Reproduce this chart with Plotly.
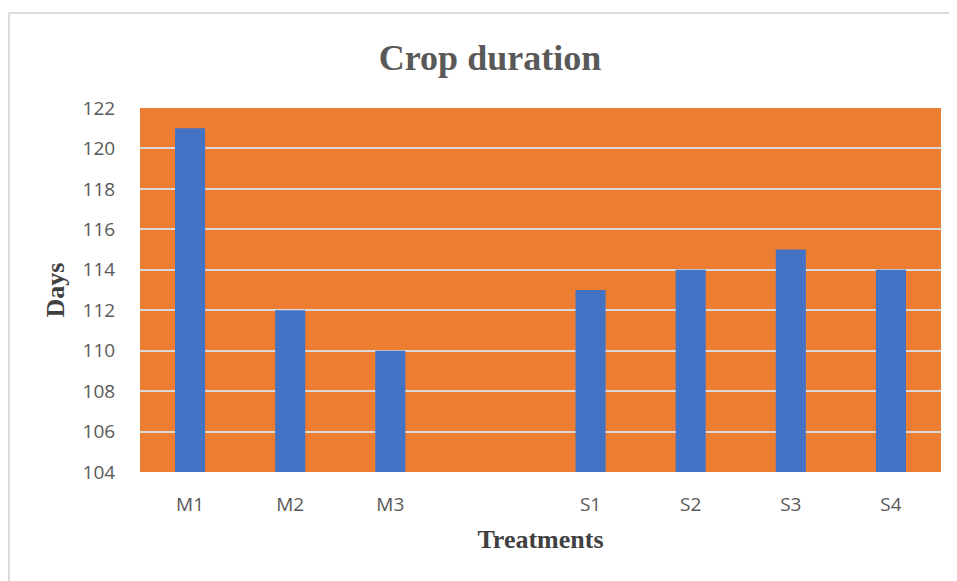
import plotly.graph_objects as go

categories = ["M1", "M2", "M3", " ", "S1", "S2", "S3", "S4"]
days = [121, 112, 110, None, 113, 114, 115, 114]
y_ticks = [104, 106, 108, 110, 112, 114, 116, 118, 120, 122]

OFF = 8  # default page body margin
W, H = 957 - OFF, 581 - OFF
L, R, T, B = 140 - OFF, 16, 108 - OFF, 109
pw, ph = W - L - R, H - T - B

fig = go.Figure(go.Bar(x=categories, y=days, marker=dict(color="#4472C4", line=dict(width=0)), width=0.3))

fig.update_layout(
    width=W, height=H,
    margin=dict(l=L, r=R, t=T, b=B),
    paper_bgcolor="white",
    plot_bgcolor="#ED7D31",
    showlegend=False,
    title=dict(text="<b>Crop duration</b>", x=(490 - 140) / pw, xref="paper", xanchor="center",
               y=1 - (57 - OFF) / H, yanchor="middle",
               font=dict(family="Liberation Serif", size=36, color="#595959")),
)
fig.update_yaxes(range=[104, 122], tickvals=y_ticks, showgrid=True, gridcolor="#D9D9D9", gridwidth=2,
                 zeroline=False, ticks="outside", ticklen=20, tickcolor="rgba(0,0,0,0)",
                 tickfont=dict(family="Open Sans", size=19, color="#595959"),
                 title=dict(text="<b>Days</b>", standoff=10,
                            font=dict(family="Liberation Serif", size=26, color="#404040")))
fig.update_xaxes(type="category", categoryarray=categories, showgrid=False, showline=False,
                 ticks="outside", ticklen=15, tickcolor="rgba(0,0,0,0)",
                 tickfont=dict(family="Open Sans", size=19, color="#595959"),
                 title=dict(text="<b>Treatments</b>", standoff=14,
                            font=dict(family="Liberation Serif", size=26, color="#404040")))

fig.add_shape(type="rect", xref="paper", yref="paper",
              x0=(9 - 140) / pw, x1=1.2, y0=-1, y1=1 + (108 - 13) / ph,
              line=dict(color="#D0D0D0", width=1.5), fillcolor="rgba(0,0,0,0)", layer="below")

fig.write_html("out.html")
